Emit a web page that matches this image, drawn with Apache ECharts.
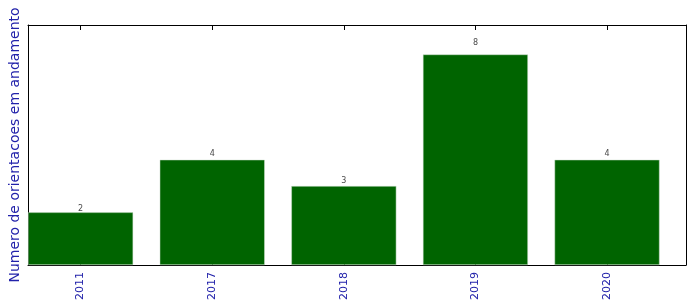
<!DOCTYPE html>
<html>
<head>
<meta charset="utf-8">
<script src="https://cdn.jsdelivr.net/npm/echarts@6/dist/echarts.min.js"></script>
<style>
html,body{margin:0;padding:0;background:#fff;}
#chart{width:696px;height:308px;}
</style>
</head>
<body>
<div id="chart"></div>
<script>
const categories = ["2011", "2017", "2018", "2019", "2020"];
const counts = [2, 4, 3, 8, 4];
const yTitle = "Numero de orientacoes em andamento";

const idx = categories.map((c, i) => i);
const barData = counts.map((v, i) => [i, v]);
const labelData = counts.map((v, i) => ({ value: [i, v * 1.05], label: { formatter: String(v) } }));

const font = "DejaVu Sans";
const chart = echarts.init(document.getElementById('chart'), null, { renderer: 'canvas' });
chart.setOption({
  animation: false,
  backgroundColor: '#ffffff',
  grid: { left: 27, right: 10, top: 25, bottom: 43 },
  xAxis: [
    {
      type: 'value', min: -0.4, max: 4.6, position: 'bottom',
      axisLine: { show: true, onZero: false, lineStyle: { color: '#000', width: 1 } },
      axisTick: { show: true, inside: true, length: 5, customValues: idx, lineStyle: { color: '#000' } },
      axisLabel: {
        show: true, customValues: idx, rotate: 90, margin: 7,
        formatter: v => categories[Math.round(v)] || '',
        color: '#2222aa', fontSize: 11, fontFamily: font
      },
      splitLine: { show: false }
    },
    {
      type: 'value', min: -0.4, max: 4.6, position: 'top',
      axisLine: { show: true, onZero: false, lineStyle: { color: '#000', width: 1 } },
      axisTick: { show: true, inside: true, length: 5, customValues: idx, lineStyle: { color: '#000' } },
      axisLabel: { show: false },
      splitLine: { show: false }
    }
  ],
  yAxis: [
    {
      type: 'value', min: 0, max: 9.12, position: 'left',
      name: yTitle, nameLocation: 'middle', nameGap: 6,
      nameTextStyle: { color: '#2222aa', fontSize: 14, fontFamily: font },
      axisLine: { show: true, onZero: false, lineStyle: { color: '#000', width: 1 } },
      axisTick: { show: false }, axisLabel: { show: false }, splitLine: { show: false }
    },
    {
      type: 'value', min: 0, max: 9.12, position: 'right',
      axisLine: { show: true, onZero: false, lineStyle: { color: '#000', width: 1 } },
      axisTick: { show: false }, axisLabel: { show: false }, splitLine: { show: false }
    }
  ],
  series: [
    {
      type: 'bar', xAxisIndex: 0, yAxisIndex: 0, data: barData, barWidth: 105,
      itemStyle: { color: '#006400', borderColor: '#cfe0cf', borderWidth: 0.5 }
    },
    {
      type: 'scatter', xAxisIndex: 0, yAxisIndex: 0, data: labelData, symbolSize: 0,
      label: { show: true, position: 'top', distance: 0, offset: [0, 3], color: '#111', fontSize: 8, fontFamily: font },
      z: 5
    }
  ]
});
</script>
</body>
</html>
